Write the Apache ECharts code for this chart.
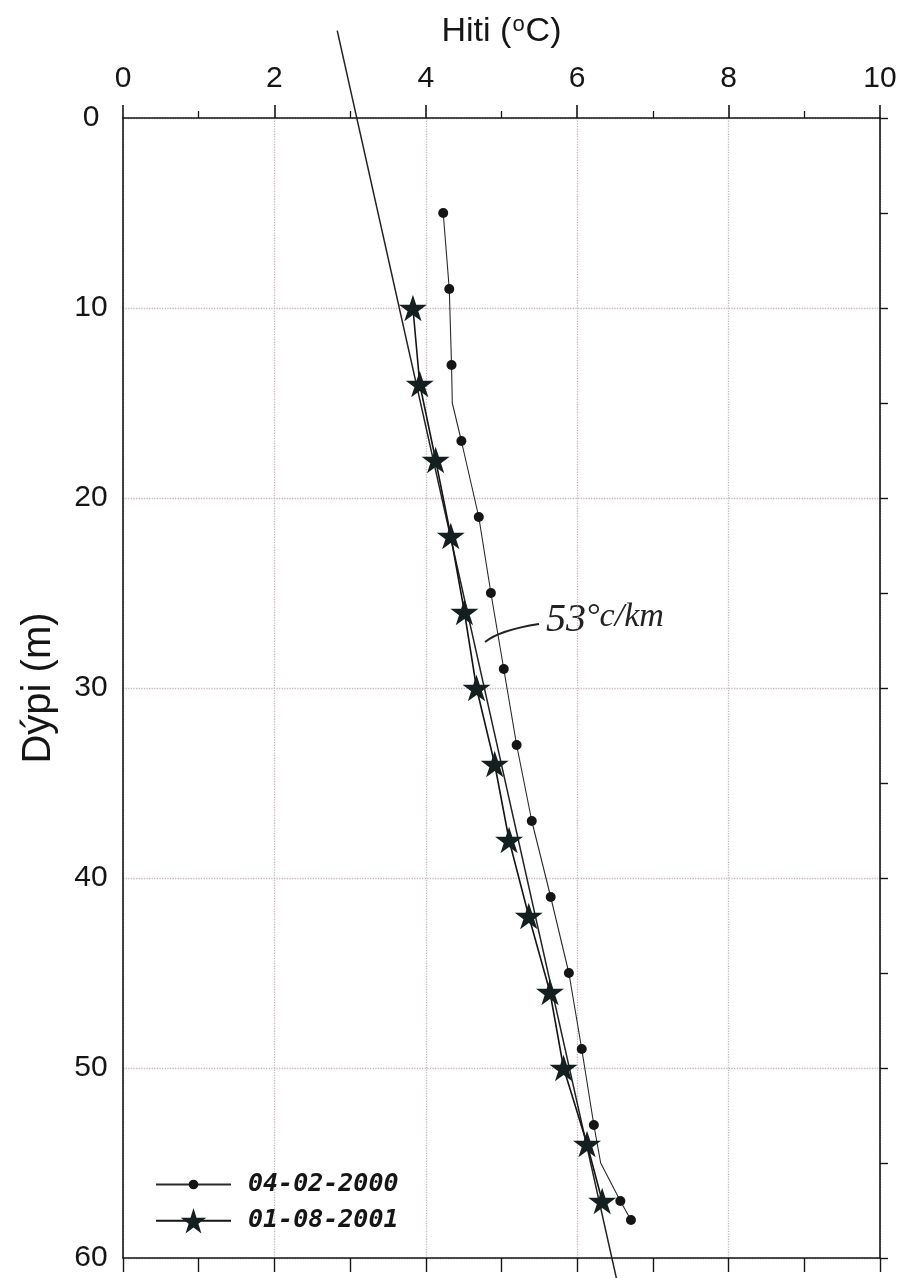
<!DOCTYPE html>
<html>
<head>
<meta charset="utf-8">
<script src="https://cdn.jsdelivr.net/npm/echarts@6/dist/echarts.min.js"></script>
<style>
html,body{margin:0;padding:0;background:#fff;}
#chart{width:903px;height:1278px;}
</style>
</head>
<body>
<div id="chart"></div>
<script>
// ---- data ----
var xTickLabels = ['0', '2', '4', '6', '8', '10'];
var yTickLabels = ['0', '10', '20', '30', '40', '50', '60'];

// Series 04-02-2000 (dots); entries with marker 0 are line vertices without a symbol
var dotDepth  = [5, 9, 13, 15, 17, 21, 25, 29, 33, 37, 41, 45, 49, 53, 55, 57, 58];
var dotTemp   = [4.23, 4.31, 4.34, 4.35, 4.47, 4.70, 4.86, 5.03, 5.20, 5.40, 5.65, 5.89, 6.06, 6.22, 6.31, 6.57, 6.71];
var dotMarker = [1, 1, 1, 0, 1, 1, 1, 1, 1, 1, 1, 1, 1, 1, 0, 1, 1];

// Series 01-08-2001 (stars)
var starDepth = [10, 14, 18, 22, 26, 30, 34, 38, 42, 46, 50, 54, 57];
var starTemp  = [3.83, 3.92, 4.13, 4.33, 4.51, 4.67, 4.91, 5.10, 5.36, 5.64, 5.82, 6.13, 6.33];

// Gradient line (53 °C/km)
var fitDepth = [-4.6, 61.1];
var fitTemp  = [2.83, 6.52];

var seriesNames = ['04-02-2000', '01-08-2001'];

// ---- build ----
var INK = '#151515';
var STAR = 'path://M50 0 L61.23 34.55 L97.55 34.55 L68.17 55.9 L79.39 90.45 L50 69.1 L20.61 90.45 L31.83 55.9 L2.45 34.55 L38.77 34.55 Z';

var dotData = dotDepth.map(function (d, i) {
  var o = { value: [dotTemp[i], d] };
  if (!dotMarker[i]) { o.symbol = 'none'; }
  return o;
});
var starData = starDepth.map(function (d, i) { return [starTemp[i], d]; });
var fitData = fitDepth.map(function (d, i) { return [fitTemp[i], d]; });

var chart = echarts.init(document.getElementById('chart'), null, { renderer: 'canvas' });
var FONT = 'Liberation Sans';
var grid = '#cbb5bc';
var legendText = { fontFamily: 'DejaVu Sans Mono', fontWeight: 'bold', fontStyle: 'italic', fontSize: 25, color: INK, padding: [0, 0, 0, 12] };

var option = {
  backgroundColor: '#ffffff',
  animation: false,
  textStyle: { fontFamily: FONT },
  grid: { left: 123, right: 23, top: 118, bottom: 20 },
  xAxis: [
    {
      type: 'value', position: 'top', min: 0, max: 10, interval: 2,
      name: '{a|Hiti (}{s|o}{a|C)}',
      nameLocation: 'middle', nameGap: 68,
      nameTextStyle: {
        color: INK, fontFamily: FONT,
        rich: {
          a: { fontSize: 34, color: INK, fontFamily: FONT },
          s: { fontSize: 22, color: INK, fontFamily: FONT, verticalAlign: 'top', padding: [0, 1, 14, 1] }
        }
      },
      axisLine: { show: true, onZero: false, lineStyle: { color: INK, width: 1.6 } },
      axisTick: { show: true, inside: false, length: 13, lineStyle: { color: INK, width: 1.6 } },
      minorTick: { show: true, splitNumber: 2, length: 7, lineStyle: { color: INK, width: 1.3 } },
      axisLabel: {
        fontSize: 30, color: INK, margin: 24, fontFamily: FONT,
        formatter: function (v) { return xTickLabels[Math.round(v / 2)]; }
      },
      splitLine: { show: true, lineStyle: { color: grid, type: 'dotted', width: 1.3 } }
    },
    {
      type: 'value', position: 'bottom', min: 0, max: 10, interval: 1,
      axisLine: { show: true, onZero: false, lineStyle: { color: INK, width: 1.6 } },
      axisTick: { show: true, inside: false, length: 14, lineStyle: { color: INK, width: 1.4 } },
      axisLabel: { show: false },
      splitLine: { show: false }
    }
  ],
  yAxis: [
    {
      type: 'value', position: 'left', inverse: true, min: 0, max: 60, interval: 10,
      name: 'Dýpi (m)', nameLocation: 'middle', nameRotate: 90, nameGap: 64,
      nameTextStyle: { fontSize: 40, color: INK, fontFamily: FONT },
      axisLine: { show: true, onZero: false, lineStyle: { color: INK, width: 1.6 } },
      axisTick: { show: false },
      axisLabel: {
        fontSize: 30, color: INK, margin: 32, align: 'center', fontFamily: FONT,
        formatter: function (v) { return yTickLabels[Math.round(v / 10)]; }
      },
      splitLine: { show: true, lineStyle: { color: grid, type: 'dotted', width: 1.3 } }
    },
    {
      type: 'value', position: 'right', inverse: true, min: 0, max: 60, interval: 5,
      axisLine: { show: true, onZero: false, lineStyle: { color: INK, width: 1.6 } },
      axisTick: { show: true, inside: false, length: 8, lineStyle: { color: INK, width: 1.4 } },
      axisLabel: { show: false },
      splitLine: { show: false }
    }
  ],
  legend: [
    {
      data: [seriesNames[0]], orient: 'vertical', left: 155, top: 1172, padding: 0,
      itemWidth: 75, itemHeight: 12, selectedMode: false,
      textStyle: legendText
    },
    {
      data: [seriesNames[1]], orient: 'vertical', left: 155, top: 1208, padding: 0,
      itemWidth: 75, itemHeight: 32, selectedMode: false,
      textStyle: legendText
    }
  ],
  series: [
    {
      name: 'gradient', type: 'line', data: fitData, clip: false,
      xAxisIndex: 0, yAxisIndex: 0,
      symbol: 'none', silent: true,
      lineStyle: { color: '#222', width: 1.5 }, z: 1
    },
    {
      name: seriesNames[0], type: 'line', data: dotData,
      xAxisIndex: 0, yAxisIndex: 0,
      symbol: 'circle', symbolSize: 10, showAllSymbol: true,
      itemStyle: { color: INK },
      lineStyle: { color: '#2a2a2a', width: 1.1 }, z: 3
    },
    {
      name: seriesNames[1], type: 'line', data: starData,
      xAxisIndex: 0, yAxisIndex: 0,
      symbol: STAR, symbolSize: 28, symbolKeepAspect: true, showAllSymbol: true,
      itemStyle: { color: '#142020' },
      lineStyle: { color: INK, width: 1.6 }, z: 4
    }
  ],
  graphic: [
    {
      type: 'bezierCurve', silent: true,
      shape: { x1: 485, y1: 642, cpx1: 500, cpy1: 630, x2: 539, y2: 624 },
      style: { stroke: '#222', lineWidth: 2, fill: null }
    },
    {
      type: 'text', left: 546, top: 600, silent: true,
      style: {
        text: '{a|53}{b|°c/km}',
        rich: {
          a: { fontSize: 40, fontFamily: 'Liberation Serif', fontStyle: 'italic', fill: '#222', verticalAlign: 'bottom' },
          b: { fontSize: 34, fontFamily: 'Liberation Serif', fontStyle: 'italic', fill: '#222', verticalAlign: 'top' }
        }
      }
    }
  ]
};
chart.setOption(option);
</script>
</body>
</html>
